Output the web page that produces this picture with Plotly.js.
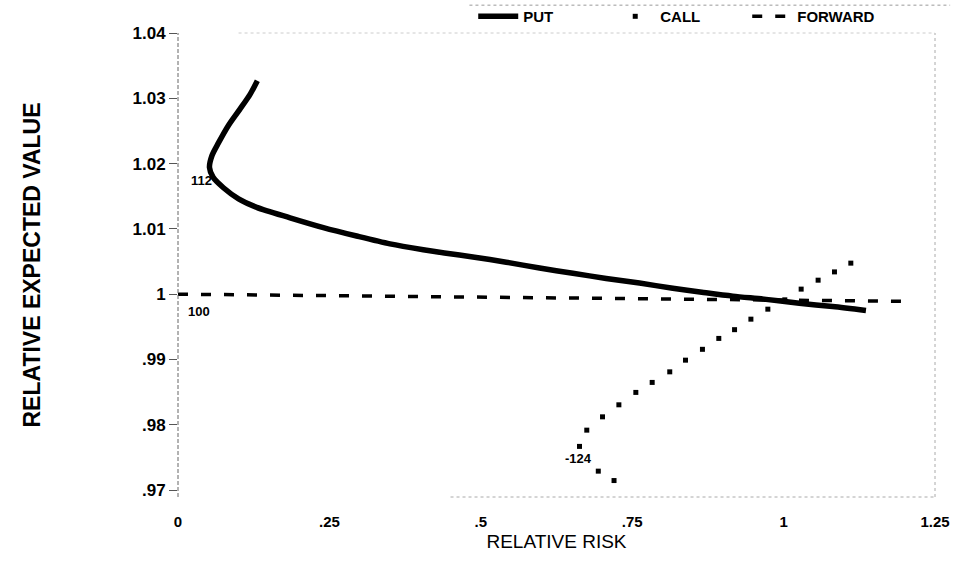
<!DOCTYPE html>
<html>
<head>
<meta charset="utf-8">
<script src="https://cdn.plot.ly/plotly-3.0.1.min.js"></script>
<style>html,body{margin:0;padding:0;background:#fff}#chart{width:977px;height:562px}</style>
</head>
<body>
<div id="chart"></div>
<script>
// PUT hedge frontier (relative risk vs relative expected value)
const putRisk  = [0.131,0.119,0.102,0.083,0.067,0.056,0.052,0.058,0.075,0.100,0.130,0.185,0.240,0.295,0.350,0.405,0.440,0.487,0.542,0.597,0.652,0.707,0.762,0.817,0.865,0.916,0.971,1.026,1.081,1.136];
const putValue = [1.0327,1.0306,1.0283,1.0258,1.0232,1.0212,1.0194,1.0179,1.0163,1.0146,1.0133,1.0117,1.0102,1.0089,1.0077,1.0068,1.0063,1.0057,1.0049,1.0040,1.0032,1.0024,1.0017,1.0009,1.0003,0.9997,0.9992,0.9986,0.9981,0.9975];

// CALL hedge frontier
const callRisk  = [0.720,0.694,0.663,0.675,0.701,0.728,0.756,0.783,0.812,0.838,0.866,0.893,0.919,0.946,0.974,1.002,1.029,1.057,1.084,1.111];
const callValue = [0.97145,0.97289,0.97668,0.97917,0.98121,0.98305,0.98495,0.98648,0.98810,0.98989,0.99155,0.99322,0.99456,0.99617,0.99770,0.99913,1.00077,1.00214,1.00341,1.00475];

// FORWARD hedge frontier
const fwdRisk  = [0, 0.2, 0.4, 0.6, 0.8, 1.0, 1.2];
const fwdValue = [1.0000, 0.9998, 0.99965, 0.9995, 0.9993, 0.9991, 0.9989];

// Point labels (hedge ratios)
const labelText  = ['112', '100', '-124'];
const labelRisk  = [0.039, 0.035, 0.662];
const labelValue = [1.01746, 0.99739, 0.97489];

// Axis ticks
const xTickVals = [0, 0.25, 0.5, 0.75, 1, 1.25];
const xTickText = ['0', '.25', '.5', '.75', '1', '1.25'];
const yTickVals = [0.97, 0.98, 0.99, 1.0, 1.01, 1.02, 1.03, 1.04];
const yTickText = ['.97', '.98', '.99', '1', '1.01', '1.02', '1.03', '1.04'];

const FONT = 'Liberation Sans, Arial, sans-serif';

const traces = [
  {
    x: putRisk, y: putValue, name: 'PUT', type: 'scatter', mode: 'lines',
    line: {color: '#000', width: 5.5, shape: 'spline', smoothing: 0.8}
  },
  {
    x: callRisk, y: callValue, name: 'CALL', type: 'scatter', mode: 'markers',
    marker: {color: '#000', size: 5, symbol: 'square'}
  },
  {
    x: fwdRisk, y: fwdValue, name: 'FORWARD', type: 'scatter', mode: 'lines',
    line: {color: '#000', width: 3.5, dash: '10px,13px'}
  }
];

const annotations = labelText.map((t, i) => ({
  x: labelRisk[i], y: labelValue[i], xref: 'x', yref: 'y',
  text: t, showarrow: false,
  font: {family: FONT, size: 13, color: '#000', weight: 'bold'}
}));

const layout = {
  width: 977, height: 562,
  margin: {l: 178, r: 42, t: 33, b: 65, autoexpand: false},
  paper_bgcolor: '#fff', plot_bgcolor: '#fff',
  font: {family: FONT, color: '#000'},
  showlegend: true,
  legend: {
    orientation: 'h', x: 0.39, xanchor: 'left', y: 1.071, yanchor: 'top',
    font: {family: FONT, size: 15, color: '#000', weight: 'bold'},
    bgcolor: 'rgba(255,255,255,0)', entrywidth: 82, entrywidthmode: 'pixels',
    itemwidth: 40
  },
  xaxis: {
    range: [0, 1.25], tickvals: xTickVals, ticktext: xTickText,
    showgrid: false, zeroline: false, showline: false, ticks: '',
    ticklabelstandoff: 14,
    tickfont: {family: FONT, size: 15, color: '#000', weight: 'bold'},
    title: {text: 'RELATIVE RISK', standoff: 5,
            font: {family: FONT, size: 19, color: '#000'}},
    automargin: false
  },
  yaxis: {
    range: [0.96893, 1.04], tickvals: yTickVals, ticktext: yTickText,
    showgrid: false, zeroline: false, showline: false,
    ticks: 'outside', ticklen: 8, tickwidth: 1, tickcolor: '#555',
    tickfont: {family: FONT, size: 17, color: '#000', weight: 'bold'},
    title: {text: 'RELATIVE EXPECTED VALUE', standoff: 85,
            font: {family: FONT, size: 23, color: '#000', weight: 'bold'}},
    automargin: false
  },
  annotations: annotations,
  shapes: [
    {type: 'line', xref: 'paper', yref: 'paper', x0: 0, x1: 0, y0: 0, y1: 1,
     line: {color: '#666', width: 1, dash: '4px,2px'}},
    {type: 'line', xref: 'paper', yref: 'paper', x0: 1, x1: 1, y0: 0, y1: 1,
     line: {color: '#aaa', width: 1, dash: 'dot'}},
    {type: 'line', xref: 'paper', yref: 'paper', x0: 0.36, x1: 1, y0: 0, y1: 0,
     line: {color: '#aaa', width: 1, dash: 'dot'}},
    {type: 'line', xref: 'paper', yref: 'paper', x0: 0.08, x1: 1, y0: 1, y1: 1,
     line: {color: '#ccc', width: 1, dash: 'dot'}},
    {type: 'line', xref: 'paper', yref: 'paper', x0: 0.385, x1: 1.02, y0: 1.06, y1: 1.06,
     line: {color: '#999', width: 1, dash: 'dot'}}
  ]
};

Plotly.newPlot('chart', traces, layout, {displayModeBar: false, staticPlot: true});
</script>
</body>
</html>
